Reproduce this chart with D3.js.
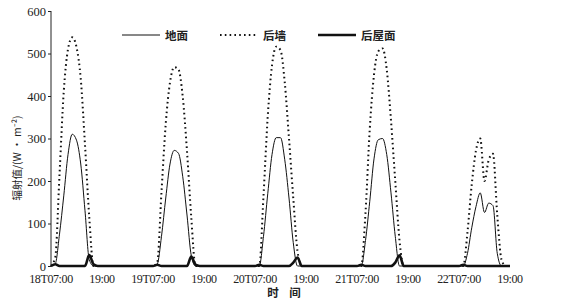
<!DOCTYPE html>
<html><head><meta charset="utf-8">
<script src="https://cdn.jsdelivr.net/npm/d3@7"></script>
<style>
body{margin:0;background:#fff;}
svg{display:block;}
</style></head>
<body><svg id="c" width="561" height="307"></svg>
<script>
// ---- data ----
const days = [18, 19, 20, 21, 22];
const hours = [7, 8, 9, 10, 11, 12, 13, 14, 15, 16, 17, 18, 19];
const seriesNames = ["地面", "后墙", "后屋面"];
// 地面 (ground)
const groundValues = [
  [0, 5, 75, 165, 262, 310, 296, 240, 130, 15, 0, 0, 0],
  [0, 5, 70, 160, 240, 272, 265, 210, 120, 25, 0, 0, 0],
  [0, 0, 70, 170, 262, 302, 302, 250, 160, 55, 0, 0, 0],
  [0, 0, 60, 152, 252, 297, 300, 262, 172, 70, 0, 0, 0],
  [0, 0, 30, 90, 140, 172, 126, 148, 142, 30, 0, 0, 0]
];
// 后墙 (back wall)
const wallValues = [
  [0, 20, 215, 410, 510, 538, 515, 440, 285, 115, 0, 0, 0],
  [0, 8, 175, 335, 432, 468, 462, 398, 270, 115, 0, 0, 0],
  [0, 0, 165, 352, 472, 516, 508, 432, 300, 160, 35, 0, 0],
  [0, 0, 125, 322, 450, 505, 512, 462, 342, 200, 60, 0, 0],
  [0, 0, 80, 192, 272, 300, 200, 250, 264, 120, 15, 0, 0]
];
// 后屋面 (back roof)
const roofValues = [
  [0, 4, 0, 0, 0, 0, 0, 0, 0, 26, 4, 0, 0],
  [0, 3, 0, 0, 0, 0, 0, 0, 0, 22, 3, 0, 0],
  [0, 3, 0, 0, 0, 0, 0, 0, 0, 8, 20, 0, 0],
  [0, 3, 0, 0, 0, 0, 0, 0, 0, 8, 25, 0, 0],
  [0, 3, 0, 0, 0, 0, 0, 0, 0, 0, 0, 0, 0]
];
const yTicks = [0, 100, 200, 300, 400, 500, 600];
const xTickLabels = ["18T07:00", "19:00", "19T07:00", "19:00", "20T07:00", "19:00", "21T07:00", "19:00", "22T07:00", "19:00"];
const xTickDays = [18, 18, 19, 19, 20, 20, 21, 21, 22, 22];
const xTickHours = [7, 19, 7, 19, 7, 19, 7, 19, 7, 19];

// ---- helpers ----
const t = (d, h) => (d - 18) * 24 + h;
function points(vals) {
  const pts = [];
  days.forEach((d, i) => hours.forEach((h, j) => pts.push([t(d, h), vals[i][j]])));
  return pts;
}

const svg = d3.select("#c");
const x = d3.scaleLinear().domain([t(18, 7), t(22, 19)]).range([51, 510]);
const y = d3.scaleLinear().domain([0, 600]).range([266, 11]);

const serif = "'Liberation Serif','DejaVu Serif',serif";
const cjk = "'Noto Sans CJK SC',sans-serif";

// y axis
const yAxis = d3.axisLeft(y).tickValues(yTicks).tickSize(3).tickPadding(2).tickFormat(d3.format("d"));
const ga = svg.append("g").attr("transform", "translate(51,0)").call(yAxis);
ga.select(".domain").attr("stroke", "#222").attr("stroke-width", 1).attr("d", "M0," + y(0) + "V" + y(600));
ga.selectAll(".tick line").attr("stroke", "#222");
ga.selectAll(".tick text").attr("font-family", serif).attr("font-size", 12.5).attr("fill", "#222");

// x labels
svg.append("g").selectAll("text").data(xTickLabels).join("text")
  .attr("x", (d, i) => x(t(xTickDays[i], xTickHours[i])))
  .attr("y", 283)
  .attr("text-anchor", "middle")
  .attr("font-family", serif).attr("font-size", 12).attr("fill", "#222")
  .attr("letter-spacing", -0.4)
  .text(d => d);

// titles
svg.append("text").attr("transform", "translate(21,158) rotate(-90)")
  .attr("text-anchor", "middle").attr("font-family", cjk).attr("font-size", 10.5).attr("fill", "#222")
  .text("辐射值/(W · m⁻²)");
svg.append("text").attr("x", 284).attr("y", 297).attr("text-anchor", "middle")
  .attr("font-family", cjk).attr("font-size", 11.5).attr("font-weight", "bold").attr("fill", "#222")
  .attr("xml:space", "preserve").text("时    间");

// lines
const line = d3.line().x(d => x(d[0])).y(d => y(d[1])).curve(d3.curveMonotoneX);
const styles = [
  {vals: groundValues, w: 1, dash: null},
  {vals: wallValues, w: 2, dash: "1.6,3.2"},
  {vals: roofValues, w: 2.6, dash: null}
];
styles.forEach(s => {
  svg.append("path").datum(points(s.vals)).attr("d", line)
    .attr("fill", "none").attr("stroke", "#111").attr("stroke-width", s.w)
    .attr("stroke-dasharray", s.dash).attr("stroke-linejoin", "round");
});

// legend
const legX = [122, 220, 318];
const leg = svg.append("g");
seriesNames.forEach((n, i) => {
  const s = styles[i];
  leg.append("line").attr("x1", legX[i]).attr("x2", legX[i] + 38).attr("y1", 35).attr("y2", 35)
    .attr("stroke", "#111").attr("stroke-width", s.w).attr("stroke-dasharray", s.dash);
  leg.append("text").attr("x", legX[i] + 43).attr("y", 39.5)
    .attr("font-family", cjk).attr("font-size", 11.5).attr("font-weight", "bold").attr("fill", "#222").text(n);
});
</script></body></html>
